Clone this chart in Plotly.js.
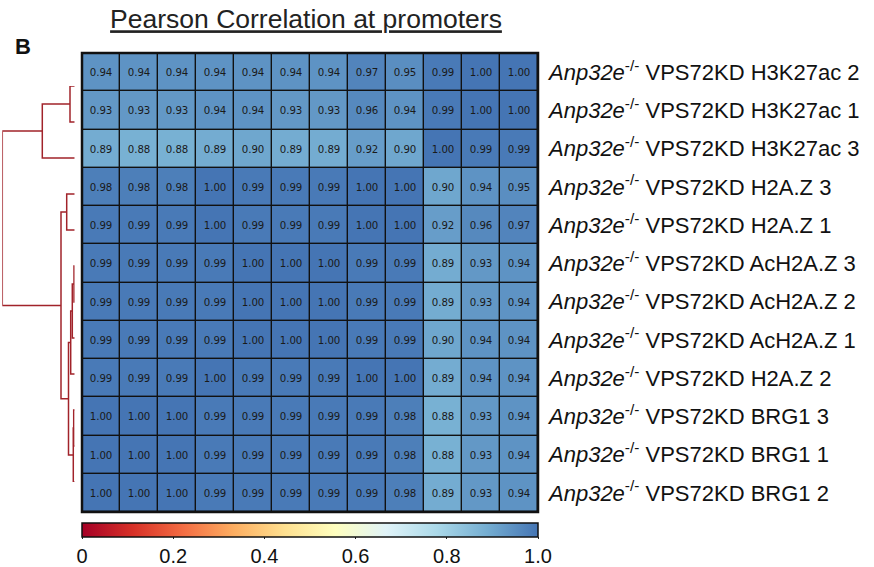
<!DOCTYPE html>
<html>
<head>
<meta charset="utf-8">
<script src="https://cdn.plot.ly/plotly-3.0.1.min.js"></script>
<style>
  html, body { margin: 0; padding: 0; background: #ffffff; }
  #chart { width: 874px; height: 567px; }
</style>
</head>
<body>
<div id="chart"></div>
<script>
// Samples, in dendrogram (row) order, top to bottom
const sampleNames = [
  'H3K27ac 2', 'H3K27ac 1', 'H3K27ac 3',
  'H2A.Z 3', 'H2A.Z 1',
  'AcH2A.Z 3', 'AcH2A.Z 2', 'AcH2A.Z 1',
  'H2A.Z 2',
  'BRG1 3', 'BRG1 1', 'BRG1 2'
];

// Pearson correlation at promoters, one array per row
const rowH3K27ac2 = [0.94, 0.94, 0.94, 0.94, 0.94, 0.94, 0.94, 0.97, 0.95, 0.99, 1.00, 1.00];
const rowH3K27ac1 = [0.93, 0.93, 0.93, 0.94, 0.94, 0.93, 0.93, 0.96, 0.94, 0.99, 1.00, 1.00];
const rowH3K27ac3 = [0.89, 0.88, 0.88, 0.89, 0.90, 0.89, 0.89, 0.92, 0.90, 1.00, 0.99, 0.99];
const rowH2AZ3    = [0.98, 0.98, 0.98, 1.00, 0.99, 0.99, 0.99, 1.00, 1.00, 0.90, 0.94, 0.95];
const rowH2AZ1    = [0.99, 0.99, 0.99, 1.00, 0.99, 0.99, 0.99, 1.00, 1.00, 0.92, 0.96, 0.97];
const rowAcH2AZ3  = [0.99, 0.99, 0.99, 0.99, 1.00, 1.00, 1.00, 0.99, 0.99, 0.89, 0.93, 0.94];
const rowAcH2AZ2  = [0.99, 0.99, 0.99, 0.99, 1.00, 1.00, 1.00, 0.99, 0.99, 0.89, 0.93, 0.94];
const rowAcH2AZ1  = [0.99, 0.99, 0.99, 0.99, 1.00, 1.00, 1.00, 0.99, 0.99, 0.90, 0.94, 0.94];
const rowH2AZ2    = [0.99, 0.99, 0.99, 1.00, 0.99, 0.99, 0.99, 1.00, 1.00, 0.89, 0.94, 0.94];
const rowBRG13    = [1.00, 1.00, 1.00, 0.99, 0.99, 0.99, 0.99, 0.99, 0.98, 0.88, 0.93, 0.94];
const rowBRG11    = [1.00, 1.00, 1.00, 0.99, 0.99, 0.99, 0.99, 0.99, 0.98, 0.88, 0.93, 0.94];
const rowBRG12    = [1.00, 1.00, 1.00, 0.99, 0.99, 0.99, 0.99, 0.99, 0.98, 0.89, 0.93, 0.94];

// Hierarchical clustering merges: [left, right, height]; new clusters numbered from 12
const linkage = [
  [5, 6, 0.7],
  [9, 10, 1.0],
  [13, 11, 1.4],
  [12, 7, 2.4],
  [15, 8, 4.0],
  [0, 1, 4.7],
  [16, 14, 6.2],
  [3, 4, 8.0],
  [19, 18, 13.7],
  [17, 2, 32.4],
  [21, 20, 72.4]
];

const colorbarTicks = [0, 0.2, 0.4, 0.6, 0.8, 1.0];
const colorbarTickText = ['0', '0.2', '0.4', '0.6', '0.8', '1.0'];

const zRows = [rowH3K27ac2, rowH3K27ac1, rowH3K27ac3, rowH2AZ3, rowH2AZ1,
  rowAcH2AZ3, rowAcH2AZ2, rowAcH2AZ1, rowH2AZ2, rowBRG13, rowBRG11, rowBRG12];
const nRows = sampleNames.length;
const nCols = zRows[0].length;
const rowIdx = sampleNames.map((_, i) => i);
const colIdx = zRows[0].map((_, j) => j);

const rowLabels = sampleNames.map(n => '<i>Anp32e</i><sup>-/-</sup> VPS72KD ' + n);

// RdYlBu, ending at the mid blue
const rdylbu = [
  [0 / 9, '#a50026'], [1 / 9, '#d73027'], [2 / 9, '#f46d43'], [3 / 9, '#fdae61'],
  [4 / 9, '#fee090'], [5 / 9, '#ffffbf'], [6 / 9, '#e0f3f8'], [7 / 9, '#abd9e9'],
  [8 / 9, '#74add1'], [9 / 9, '#4575b4']
];

// Dendrogram segments from the linkage table
const nodePos = {};
const nodeH = {};
for (let i = 0; i < nRows; i++) { nodePos[i] = i; nodeH[i] = 0; }
const dx = [], dy = [];
linkage.forEach((m, k) => {
  const id = nRows + k;
  const [a, b, h] = m;
  dx.push(nodeH[a], h, h, nodeH[b], null);
  dy.push(nodePos[a], nodePos[a], nodePos[b], nodePos[b], null);
  nodePos[id] = (nodePos[a] + nodePos[b]) / 2;
  nodeH[id] = h;
});
const rootH = linkage[linkage.length - 1][2];

const W = 874, H = 567;
const heat = { x0: 82, x1: 538, y0: 53, y1: 512 };
const dend = { x0: 2.3, x1: 74.7, y0: 86, y1: 482 };

const font = 'Arial, "Liberation Sans", Helvetica, sans-serif';

const traces = [
  {
    type: 'heatmap',
    x: colIdx,
    y: rowIdx,
    z: zRows,
    zmin: 0, zmax: 1,
    colorscale: rdylbu,
    xgap: 1.4, ygap: 1.4,
    texttemplate: '%{z:.2f}',
    textfont: { family: '"DejaVu Sans", Verdana, sans-serif', size: 10.2, color: '#1a1a1a' },
    hoverinfo: 'skip',
    colorbar: {
      orientation: 'h',
      x: ((heat.x0 + heat.x1) / 2) / W, xanchor: 'center',
      y: 1 - 523 / H, yanchor: 'top',
      len: (heat.x1 - heat.x0) / W, lenmode: 'fraction',
      thickness: 14,
      xpad: 0, ypad: 0,
      outlinecolor: '#111', outlinewidth: 1.5,
      tickmode: 'array', tickvals: colorbarTicks, ticktext: colorbarTickText,
      ticks: 'outside', ticklen: 2, tickcolor: '#222', tickwidth: 1,
      tickfont: { family: font, size: 20, color: '#111' }
    }
  },
  {
    type: 'scatter', mode: 'lines',
    x: dx, y: dy,
    xaxis: 'x2', yaxis: 'y2',
    line: { color: '#a1232a', width: 1.5 },
    hoverinfo: 'skip', showlegend: false
  }
];

const layout = {
  width: W, height: H,
  margin: { l: 0, r: 0, t: 0, b: 0, autoexpand: false },
  paper_bgcolor: '#ffffff',
  plot_bgcolor: '#ffffff',
  showlegend: false,
  font: { family: font, color: '#111' },
  title: {
    text: '<u>Pearson Correlation at promoters</u>',
    x: 306 / W, xanchor: 'center',
    y: 1 - 19 / H, yanchor: 'middle',
    font: { family: font, size: 26.5, color: '#222' }
  },
  xaxis: {
    domain: [heat.x0 / W, heat.x1 / W],
    range: [-0.5, nCols - 0.5],
    showticklabels: false, ticks: '', showgrid: false, zeroline: false
  },
  yaxis: {
    domain: [1 - heat.y1 / H, 1 - heat.y0 / H],
    range: [nRows - 0.5, -0.5],
    side: 'right',
    tickmode: 'array', tickvals: rowIdx, ticktext: rowLabels,
    ticks: '', showgrid: false, zeroline: false,
    ticklabelstandoff: 10,
    tickfont: { family: font, size: 22, color: '#111' }
  },
  xaxis2: {
    domain: [dend.x0 / W, dend.x1 / W],
    range: [rootH, 0],
    visible: false, fixedrange: true
  },
  yaxis2: {
    domain: [1 - dend.y1 / H, 1 - dend.y0 / H],
    range: [nRows - 1, 0],
    anchor: 'x2',
    visible: false, fixedrange: true
  },
  shapes: [
    // black backing that shows through the cell gaps
    {
      type: 'rect', xref: 'x', yref: 'y', layer: 'below',
      x0: -0.5, x1: nCols - 0.5, y0: -0.5, y1: nRows - 0.5,
      line: { width: 0 }, fillcolor: '#111111'
    },
    {
      type: 'rect', xref: 'paper', yref: 'paper',
      x0: heat.x0 / W, x1: heat.x1 / W,
      y0: 1 - heat.y1 / H, y1: 1 - heat.y0 / H,
      line: { color: '#111', width: 2.5 }, fillcolor: 'rgba(0,0,0,0)'
    }
  ],
  annotations: [
    {
      text: '<b>B</b>', xref: 'paper', yref: 'paper',
      x: 13 / W, y: 1 - 46 / H, xanchor: 'left', yanchor: 'middle',
      showarrow: false, font: { family: font, size: 22, color: '#111' }
    }
  ]
};

Plotly.newPlot('chart', traces, layout, { displayModeBar: false, staticPlot: true });
</script>
</body>
</html>
